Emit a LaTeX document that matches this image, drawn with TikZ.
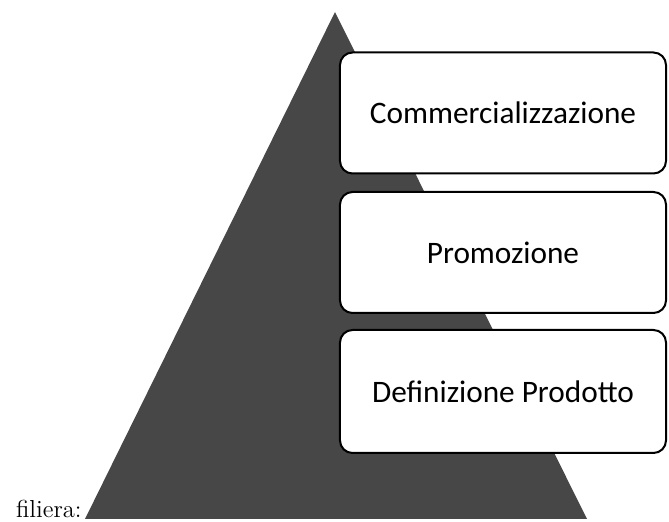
\documentclass[tikz,border=0pt]{standalone}
\usepackage{fontspec}
\newfontfamily\levelfont{Carlito}

\begin{document}
\begin{tikzpicture}[
    level/.style={draw, fill=white, line width=.4mm, rounded corners=2.5mm,
        minimum width=6.52cm, minimum height=2.42cm, inner sep=0pt,
        font=\levelfont\fontsize{17.8}{21}\selectfont},
    pyramid/.style={fill=black!72},
]
    \useasboundingbox (0, 0) rectangle (13.38, 10.44);

    %% the pyramid behind the three levels
    \fill[pyramid] (6.70, 10.20) -- (11.74, .06) -- (1.70, .06) -- cycle;

    %% the three levels, from the top down
    \node[level] (comm) at (10.06, 8.18) {Commercializzazione};
    \node[level] (promo) at (10.06, 5.39) {Promozione};
    \node[level, minimum height=2.46cm] (prod) at (10.06, 2.61)
        {Definizione Prodotto};

    %% the caption left of the base
    \node[anchor=base east, inner sep=0pt,
        font=\fontsize{14}{16}\selectfont] (filiera) at (1.64, .08)
        {filiera:};
\end{tikzpicture}
\end{document}
